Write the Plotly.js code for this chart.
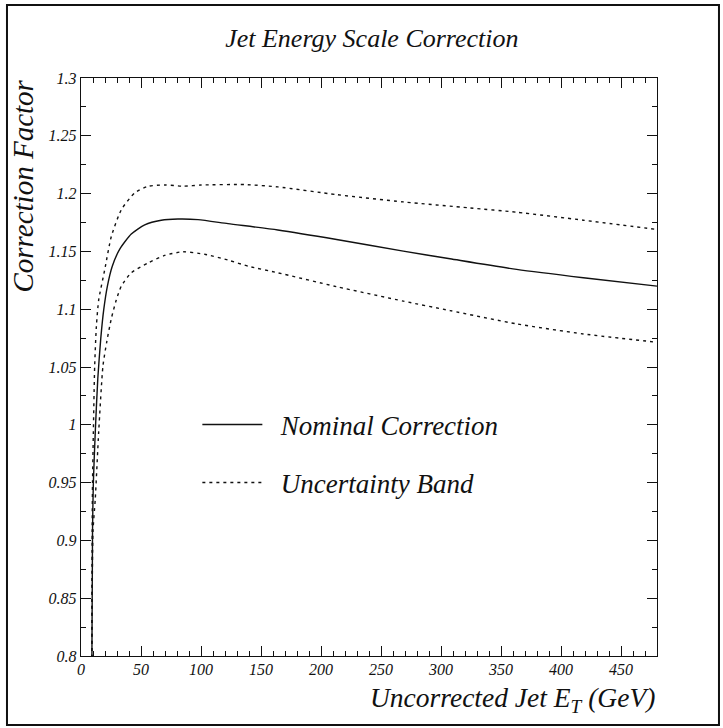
<!DOCTYPE html>
<html>
<head>
<meta charset="utf-8">
<script src="https://cdn.plot.ly/plotly-3.0.1.min.js"></script>
<style>
  html, body { margin: 0; padding: 0; background: #fff; }
  #plot { width: 723px; height: 728px; }
</style>
</head>
<body>
<div id="plot"></div>
<script>
// Jet energy scale correction factor vs. uncorrected jet E_T (GeV)
const nominalEt = [9.0, 9.6, 10.3, 11.9, 14.0, 16.5, 19.0, 22.0, 26.0, 32.3, 41.9, 53.1, 66.9, 80.8, 97.5, 122.5, 164, 213, 268.6, 307.5, 363, 418.6, 480];
const nominalCorr = [0.78, 0.908, 0.95, 0.994, 1.04, 1.075, 1.10, 1.12, 1.137, 1.152, 1.165, 1.173, 1.177, 1.178, 1.1775, 1.174, 1.1685, 1.1603, 1.1502, 1.1436, 1.1344, 1.1272, 1.12];

const upperEt = [9.0, 9.3, 9.6, 10.3, 11.4, 12.8, 14.75, 19.75, 25.3, 33.6, 44.75, 55.8, 69.75, 85, 100, 136.4, 164, 213, 268.6, 324.2, 363, 418.6, 480];
const upperCorr = [0.78, 0.908, 0.95, 0.994, 1.051, 1.085, 1.108, 1.134, 1.163, 1.186, 1.2006, 1.2063, 1.2075, 1.2064, 1.2074, 1.2078, 1.2058, 1.1991, 1.1928, 1.1876, 1.1839, 1.177, 1.169];

const lowerEt = [9.0, 10.0, 11.9, 14.75, 18.3, 21.5, 25.3, 29.4, 33.6, 41.9, 55.8, 69.75, 85, 103, 122.5, 140, 164, 213, 268.6, 307.5, 363, 418.6, 480];
const lowerCorr = [0.78, 0.908, 0.936, 0.994, 1.051, 1.072, 1.092, 1.108, 1.12, 1.1315, 1.140, 1.1465, 1.1497, 1.1475, 1.1425, 1.137, 1.1315, 1.1195, 1.107, 1.0988, 1.0873, 1.0786, 1.0714];

const xTickVals = [0, 50, 100, 150, 200, 250, 300, 350, 400, 450];
const xTickText = ['0', '50', '100', '150', '200', '250', '300', '350', '400', '450'];
const yTickVals = [0.8, 0.85, 0.9, 0.95, 1.0, 1.05, 1.1, 1.15, 1.2, 1.25, 1.3];
const yTickText = ['0.8', '0.85', '0.9', '0.95', '1', '1.05', '1.1', '1.15', '1.2', '1.25', '1.3'];

const serif = 'Liberation Serif, Times New Roman, Times, serif';
const ink = '#111';
const bandDash = '3px,4px';
const pad = '\u00A0\u00A0';

const traces = [
  {
    x: nominalEt, y: nominalCorr, type: 'scatter', mode: 'lines',
    line: { color: ink, width: 1.4, shape: 'spline', smoothing: 0.6 },
    name: pad + 'Nominal Correction', legend: 'legend'
  },
  {
    x: upperEt, y: upperCorr, type: 'scatter', mode: 'lines',
    line: { color: ink, width: 1.4, dash: bandDash, shape: 'spline', smoothing: 0.6 },
    name: pad + 'Uncertainty Band', legend: 'legend2'
  },
  {
    x: lowerEt, y: lowerCorr, type: 'scatter', mode: 'lines',
    line: { color: ink, width: 1.4, dash: bandDash, shape: 'spline', smoothing: 0.6 },
    name: 'Uncertainty Band', showlegend: false
  }
];

const axisCommon = {
  showline: true, linecolor: ink, linewidth: 1.4, mirror: 'ticks',
  ticks: 'inside', ticklen: 10, tickwidth: 1, tickcolor: ink,
  showgrid: false, zeroline: false,
  tickfont: { family: serif, size: 16, style: 'italic', color: ink }
};

const legendCommon = {
  xanchor: 'left', yanchor: 'middle', bgcolor: 'rgba(0,0,0,0)', borderwidth: 0,
  itemwidth: 60,
  font: { family: serif, size: 27, style: 'italic', color: ink }
};

const layout = {
  width: 723, height: 728,
  margin: { l: 81, r: 66, t: 78, b: 72 },
  paper_bgcolor: '#fff', plot_bgcolor: '#fff',
  title: {
    text: 'Jet Energy Scale Correction',
    font: { family: serif, size: 26, style: 'italic', color: ink },
    xref: 'paper', x: 0.505, xanchor: 'center',
    yref: 'container', y: 0.948, yanchor: 'middle'
  },
  xaxis: Object.assign({}, axisCommon, {
    range: [0, 480], tickmode: 'array', tickvals: xTickVals, ticktext: xTickText,
    ticklabelstandoff: -2,
    minor: { dtick: 10, ticks: 'inside', ticklen: 5, tickcolor: ink, tickwidth: 1 }
  }),
  yaxis: Object.assign({}, axisCommon, {
    range: [0.8, 1.3], tickmode: 'array', tickvals: yTickVals, ticktext: yTickText,
    minor: { dtick: 0.025, ticks: 'inside', ticklen: 5, tickcolor: ink, tickwidth: 1 }
  }),
  legend: Object.assign({}, legendCommon, { x: 0.202, y: 0.3997 }),
  legend2: Object.assign({}, legendCommon, { x: 0.202, y: 0.2993 }),
  annotations: [
    {
      text: 'Correction Factor', textangle: -90, showarrow: false,
      xref: 'paper', yref: 'paper', x: -0.1024, y: 1.0,
      xanchor: 'center', yanchor: 'top',
      font: { family: serif, size: 29, style: 'italic', color: ink }
    },
    {
      text: 'Uncorrected Jet E<sub>T</sub> (GeV)', showarrow: false,
      xref: 'paper', yref: 'paper', x: 1.0, y: -0.075,
      xanchor: 'right', yanchor: 'middle',
      font: { family: serif, size: 27.5, style: 'italic', color: ink }
    }
  ],
  shapes: [
    {
      type: 'rect', xref: 'paper', yref: 'paper',
      x0: -0.1285, x1: 1.1076, y0: -0.1194, y1: 1.1263,
      line: { color: ink, width: 2 }, fillcolor: 'rgba(0,0,0,0)'
    }
  ]
};

Plotly.newPlot('plot', traces, layout, { displayModeBar: false, staticPlot: true });
</script>
</body>
</html>
